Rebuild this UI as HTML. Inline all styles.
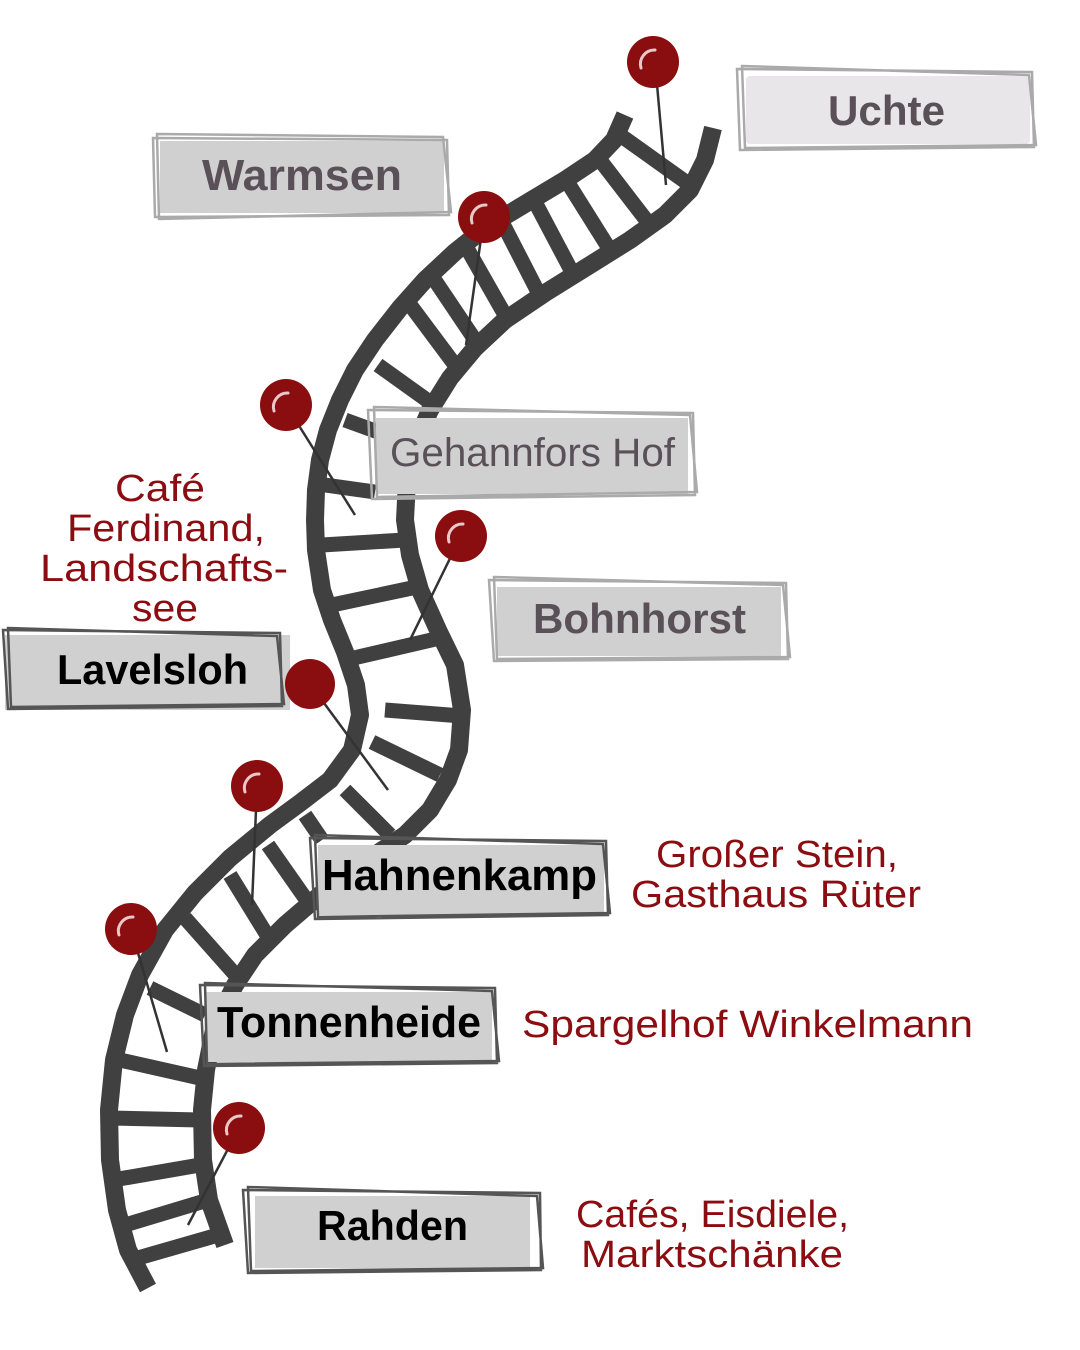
<!DOCTYPE html>
<html><head><meta charset="utf-8"><style>
html,body{margin:0;padding:0;background:#fff;}
svg{display:block}
.lbl{font-family:"Liberation Sans",sans-serif;font-size:42px;font-weight:bold;}
.red{font-family:"Liberation Sans",sans-serif;font-size:38px;fill:#8b0d12;}
</style></head><body>
<svg width="1080" height="1350" viewBox="0 0 1080 1350" xmlns="http://www.w3.org/2000/svg">
<g fill="none" stroke="#404040" stroke-linecap="butt" stroke-linejoin="round">
<polyline stroke-width="18" points="625,115 614,140 595,160 565,180 520,207 485,228 455,252 425,280 400,308 375,340 355,370 340,400 328,430 320,460 316,490 315,520 316,550 322,590 332,620 345,652 356,685 360,715 352,750 330,780 300,803 270,825 230,858 195,893 165,930 140,975 125,1015 114,1060 109,1110 110,1160 117,1210 128,1250 148,1288"/>
<polyline stroke-width="18" points="713,128 705,160 690,190 665,215 630,240 590,265 545,293 505,320 475,348 450,378 430,410 415,445 407,480 405,520 410,555 420,590 438,630 455,665 462,710 459,750 448,780 430,810 405,835 360,865 320,895 285,925 255,955 235,985 215,1025 206,1070 202,1110 203,1160 209,1200 225,1245"/>
<g stroke-width="15">
<line x1="620" y1="135" x2="690" y2="185"/>
<line x1="600" y1="160" x2="650" y2="225"/>
<line x1="568" y1="183" x2="610" y2="250"/>
<line x1="535" y1="202" x2="572" y2="272"/>
<line x1="502" y1="222" x2="538" y2="292"/>
<line x1="468" y1="250" x2="505" y2="315"/>
<line x1="432" y1="276" x2="475" y2="340"/>
<line x1="408" y1="302" x2="455" y2="365"/>
<line x1="378" y1="365" x2="438" y2="408"/>
<line x1="345" y1="420" x2="378" y2="432"/>
<line x1="325" y1="485" x2="375" y2="492"/>
<line x1="322" y1="545" x2="405" y2="540"/>
<line x1="332" y1="605" x2="412" y2="588"/>
<line x1="345" y1="660" x2="440" y2="638"/>
<line x1="385" y1="710" x2="462" y2="716"/>
<line x1="372" y1="742" x2="440" y2="775"/>
<line x1="345" y1="790" x2="390" y2="835"/>
<line x1="305" y1="815" x2="322" y2="840"/>
<line x1="268" y1="845" x2="310" y2="905"/>
<line x1="230" y1="875" x2="270" y2="940"/>
<line x1="185" y1="918" x2="240" y2="980"/>
<line x1="150" y1="988" x2="205" y2="1015"/>
<line x1="120" y1="1060" x2="200" y2="1078"/>
<line x1="110" y1="1118" x2="200" y2="1120"/>
<line x1="113" y1="1180" x2="200" y2="1165"/>
<line x1="125" y1="1225" x2="208" y2="1200"/>
<line x1="138" y1="1258" x2="218" y2="1235"/>
</g>
</g>
<g stroke="#333" stroke-width="2.5">
<line x1="655" y1="62" x2="666" y2="185"/>
<line x1="484" y1="217" x2="466" y2="345"/>
<line x1="286" y1="405" x2="355" y2="515"/>
<line x1="461" y1="536" x2="410" y2="640"/>
<line x1="310" y1="684" x2="388" y2="790"/>
<line x1="257" y1="786" x2="252" y2="905"/>
<line x1="131" y1="929" x2="167" y2="1052"/>
<line x1="239" y1="1128" x2="188" y2="1225"/>
</g>
<g stroke-width="2.5" fill="none">
<rect x="160" y="141" width="284" height="72" fill="#d0d0d0" stroke="none"/>
<path d="M153,138 L447,140 L449,215 L155,217 Z M157,134 L443,137 L451,212 L159,219 Z" stroke="#aaa"/>
<rect x="746" y="76" width="284" height="68" rx="4" fill="#e8e6e8" stroke="none"/>
<path d="M737,69 L1032,72 L1034,147 L740,150 Z M742,66 L1029,75 L1036,145 L745,148 Z" stroke="#aaa"/>
<rect x="376" y="418" width="312" height="76" fill="#d0d0d0" stroke="none"/>
<path d="M368,410 L693,413 L695,495 L372,499 Z M374,407 L690,415 L697,492 L377,497 Z" stroke="#aaa"/>
<rect x="497" y="587" width="284" height="69" fill="#d0d0d0" stroke="none"/>
<path d="M489,580 L786,583 L788,659 L494,661 Z M494,577 L783,585 L790,657 L497,659 Z" stroke="#aaa"/>
<rect x="5" y="635" width="285" height="75" fill="#d0d0d0" stroke="none"/>
<path d="M3,630 L280,633 L282,706 L8,709 Z M8,628 L277,636 L284,704 L11,707 Z" stroke="#555"/>
<rect x="318" y="845" width="286" height="70" fill="#d0d0d0" stroke="none"/>
<path d="M310,838 L606,841 L608,915 L315,919 Z M315,835 L603,844 L610,913 L318,917 Z" stroke="#555"/>
<rect x="206" y="992" width="286" height="70" fill="#d0d0d0" stroke="none"/>
<path d="M200,985 L495,988 L497,1063 L204,1066 Z M205,983 L492,991 L499,1061 L207,1064 Z" stroke="#555"/>
<rect x="255" y="1196" width="275" height="72" fill="#d0d0d0" stroke="none"/>
<path d="M243,1190 L540,1193 L541,1270 L248,1273 Z M248,1187 L537,1196 L543,1268 L251,1271 Z" stroke="#555"/>
</g>
<g class="lbl">
<text x="202" y="190" fill="#5a5058" font-size="44" textLength="200" lengthAdjust="spacingAndGlyphs">Warmsen</text>
<text x="828" y="125" fill="#5a5058" textLength="117" lengthAdjust="spacingAndGlyphs">Uchte</text>
<text x="390" y="466" fill="#5a5058" font-size="40" font-weight="normal" textLength="285" lengthAdjust="spacingAndGlyphs">Gehannfors Hof</text>
<text x="533" y="633" fill="#5a5058" textLength="213" lengthAdjust="spacingAndGlyphs">Bohnhorst</text>
<text x="57" y="684" fill="#000" textLength="191" lengthAdjust="spacingAndGlyphs">Lavelsloh</text>
<text x="322" y="890" fill="#000" font-size="44" textLength="275" lengthAdjust="spacingAndGlyphs">Hahnenkamp</text>
<text x="217" y="1037" fill="#000" font-size="44" textLength="264" lengthAdjust="spacingAndGlyphs">Tonnenheide</text>
<text x="317" y="1240" fill="#000" textLength="151" lengthAdjust="spacingAndGlyphs">Rahden</text>
</g>
<g class="red">
<text x="115" y="501" textLength="90" lengthAdjust="spacingAndGlyphs">Café</text>
<text x="67" y="541" textLength="198" lengthAdjust="spacingAndGlyphs">Ferdinand,</text>
<text x="40" y="581" textLength="248" lengthAdjust="spacingAndGlyphs">Landschafts-</text>
<text x="132" y="621" textLength="66" lengthAdjust="spacingAndGlyphs">see</text>
<text x="656" y="867" textLength="242" lengthAdjust="spacingAndGlyphs">Großer Stein,</text>
<text x="631" y="907" textLength="290" lengthAdjust="spacingAndGlyphs">Gasthaus Rüter</text>
<text x="522" y="1037" textLength="451" lengthAdjust="spacingAndGlyphs">Spargelhof Winkelmann</text>
<text x="576" y="1227" textLength="273" lengthAdjust="spacingAndGlyphs">Cafés, Eisdiele,</text>
<text x="581" y="1267" textLength="262" lengthAdjust="spacingAndGlyphs">Marktschänke</text>
</g>
<g fill="#8a0d0f">
<circle cx="653" cy="62" r="26"/>
<circle cx="484" cy="217" r="26"/>
<circle cx="286" cy="405" r="26"/>
<circle cx="461" cy="536" r="26"/>
<circle cx="310" cy="684" r="25"/>
<circle cx="257" cy="786" r="26"/>
<circle cx="131" cy="929" r="26"/>
<circle cx="239" cy="1128" r="26"/>
</g>
<g fill="none" stroke="#e8c8c8" stroke-width="3" stroke-linecap="round">
<path d="M641,68 A14,14 0 0 1 655,50"/>
<path d="M472,223 A14,14 0 0 1 486,205"/>
<path d="M274,411 A14,14 0 0 1 288,393"/>
<path d="M449,542 A14,14 0 0 1 463,524"/>
<path d="M245,792 A14,14 0 0 1 259,774"/>
<path d="M119,935 A14,14 0 0 1 133,917"/>
<path d="M227,1134 A14,14 0 0 1 241,1116"/>
</g>
</svg>
</body></html>
